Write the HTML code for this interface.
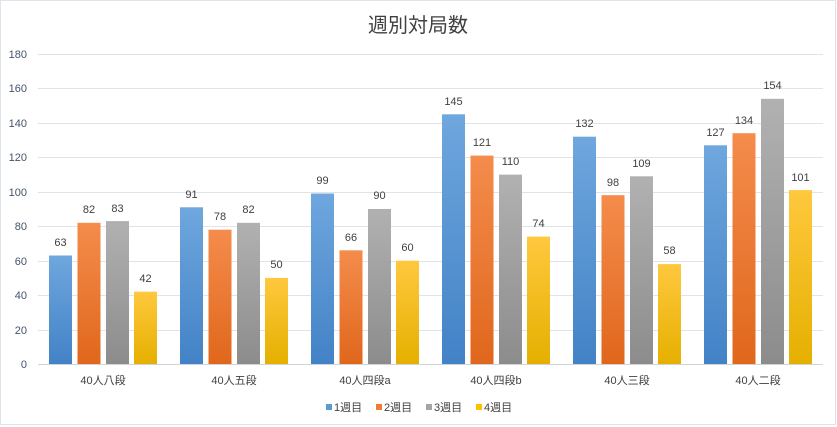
<!DOCTYPE html>
<html><head><meta charset="utf-8"><style>
html,body{margin:0;padding:0;background:#fff}
svg{display:block;font-family:"Liberation Sans","Noto Sans CJK JP",sans-serif}
</style></head><body>
<svg width="837" height="427" viewBox="0 0 837 427" xmlns="http://www.w3.org/2000/svg">
<defs>
<linearGradient id="b" x1="0" y1="0" x2="0" y2="1"><stop offset="0" stop-color="#6fa7de"/><stop offset="1" stop-color="#4282c6"/></linearGradient>
<linearGradient id="o" x1="0" y1="0" x2="0" y2="1"><stop offset="0" stop-color="#f48c4c"/><stop offset="1" stop-color="#e0671c"/></linearGradient>
<linearGradient id="g" x1="0" y1="0" x2="0" y2="1"><stop offset="0" stop-color="#b1b1b1"/><stop offset="1" stop-color="#8c8c8c"/></linearGradient>
<linearGradient id="y" x1="0" y1="0" x2="0" y2="1"><stop offset="0" stop-color="#ffc83e"/><stop offset="1" stop-color="#e5b000"/></linearGradient>
</defs>
<rect x="0.5" y="0.5" width="835" height="424" fill="#fff" stroke="#dfe3ea"/>
<text x="418" y="32" text-anchor="middle" font-size="20" fill="#404040">週別対局数</text>
<g stroke="#e0e3e8" stroke-width="1">
<line x1="38" x2="823" y1="54.5" y2="54.5"/><line x1="38" x2="823" y1="88.5" y2="88.5"/><line x1="38" x2="823" y1="123.5" y2="123.5"/><line x1="38" x2="823" y1="157.5" y2="157.5"/><line x1="38" x2="823" y1="192.5" y2="192.5"/><line x1="38" x2="823" y1="226.5" y2="226.5"/><line x1="38" x2="823" y1="261.5" y2="261.5"/><line x1="38" x2="823" y1="295.5" y2="295.5"/><line x1="38" x2="823" y1="330.5" y2="330.5"/><line x1="38" x2="823" y1="364.5" y2="364.5" stroke="#d0d4da"/>
</g>
<g font-size="11" fill="#44546a" text-anchor="end">
<text x="27" y="58">180</text><text x="27" y="92">160</text><text x="27" y="127">140</text><text x="27" y="161">120</text><text x="27" y="196">100</text><text x="27" y="230">80</text><text x="27" y="265">60</text><text x="27" y="299">40</text><text x="27" y="334">20</text><text x="27" y="368">0</text>
</g>
<g>
<rect x="49" y="255.5" width="23" height="108.5" fill="url(#b)"/><rect x="77.5" y="222.8" width="23" height="141.2" fill="url(#o)"/><rect x="106" y="221.1" width="23" height="142.9" fill="url(#g)"/><rect x="134" y="291.7" width="23" height="72.3" fill="url(#y)"/>
<rect x="180" y="207.3" width="23" height="156.7" fill="url(#b)"/><rect x="208.5" y="229.7" width="23" height="134.3" fill="url(#o)"/><rect x="237" y="222.8" width="23" height="141.2" fill="url(#g)"/><rect x="265" y="277.9" width="23" height="86.1" fill="url(#y)"/>
<rect x="311" y="193.5" width="23" height="170.5" fill="url(#b)"/><rect x="339.5" y="250.3" width="23" height="113.7" fill="url(#o)"/><rect x="368" y="209" width="23" height="155" fill="url(#g)"/><rect x="396" y="260.7" width="23" height="103.3" fill="url(#y)"/>
<rect x="442" y="114.3" width="23" height="249.7" fill="url(#b)"/><rect x="470.5" y="155.6" width="23" height="208.4" fill="url(#o)"/><rect x="499" y="174.6" width="23" height="189.4" fill="url(#g)"/><rect x="527" y="236.6" width="23" height="127.4" fill="url(#y)"/>
<rect x="573" y="136.7" width="23" height="227.3" fill="url(#b)"/><rect x="601.5" y="195.2" width="23" height="168.8" fill="url(#o)"/><rect x="630" y="176.3" width="23" height="187.7" fill="url(#g)"/><rect x="658" y="264.1" width="23" height="99.9" fill="url(#y)"/>
<rect x="704" y="145.3" width="23" height="218.7" fill="url(#b)"/><rect x="732.5" y="133.2" width="23" height="230.8" fill="url(#o)"/><rect x="761" y="98.8" width="23" height="265.2" fill="url(#g)"/><rect x="789" y="190.1" width="23" height="173.9" fill="url(#y)"/>
</g>
<g font-size="11" fill="#404040" text-anchor="middle">
<text x="60.5" y="246">63</text><text x="89" y="213">82</text><text x="117.5" y="212">83</text><text x="145.5" y="282">42</text>
<text x="191.5" y="198">91</text><text x="220" y="220">78</text><text x="248.5" y="213">82</text><text x="276.5" y="268">50</text>
<text x="322.5" y="184">99</text><text x="351" y="241">66</text><text x="379.5" y="199">90</text><text x="407.5" y="251">60</text>
<text x="453.5" y="105">145</text><text x="482" y="146">121</text><text x="510.5" y="165">110</text><text x="538.5" y="227">74</text>
<text x="584.5" y="127">132</text><text x="613" y="186">98</text><text x="641.5" y="167">109</text><text x="669.5" y="254">58</text>
<text x="715.5" y="136">127</text><text x="744" y="124">134</text><text x="772.5" y="89">154</text><text x="800.5" y="181">101</text>
</g>
<g font-size="11" fill="#404040" text-anchor="middle">
<text x="103" y="384">40人八段</text><text x="234" y="384">40人五段</text><text x="365" y="384">40人四段a</text><text x="496" y="384">40人四段b</text><text x="627" y="384">40人三段</text><text x="758" y="384">40人二段</text>
</g>
<g font-size="11" fill="#404040">
<rect x="326" y="404" width="6" height="6" fill="#5b9bd5"/><text x="334" y="411">1週目</text>
<rect x="376" y="404" width="6" height="6" fill="#ed7d31"/><text x="384" y="411">2週目</text>
<rect x="426" y="404" width="6" height="6" fill="#a5a5a5"/><text x="434" y="411">3週目</text>
<rect x="476" y="404" width="6" height="6" fill="#ffc000"/><text x="484" y="411">4週目</text>
</g>
</svg>
</body></html>
